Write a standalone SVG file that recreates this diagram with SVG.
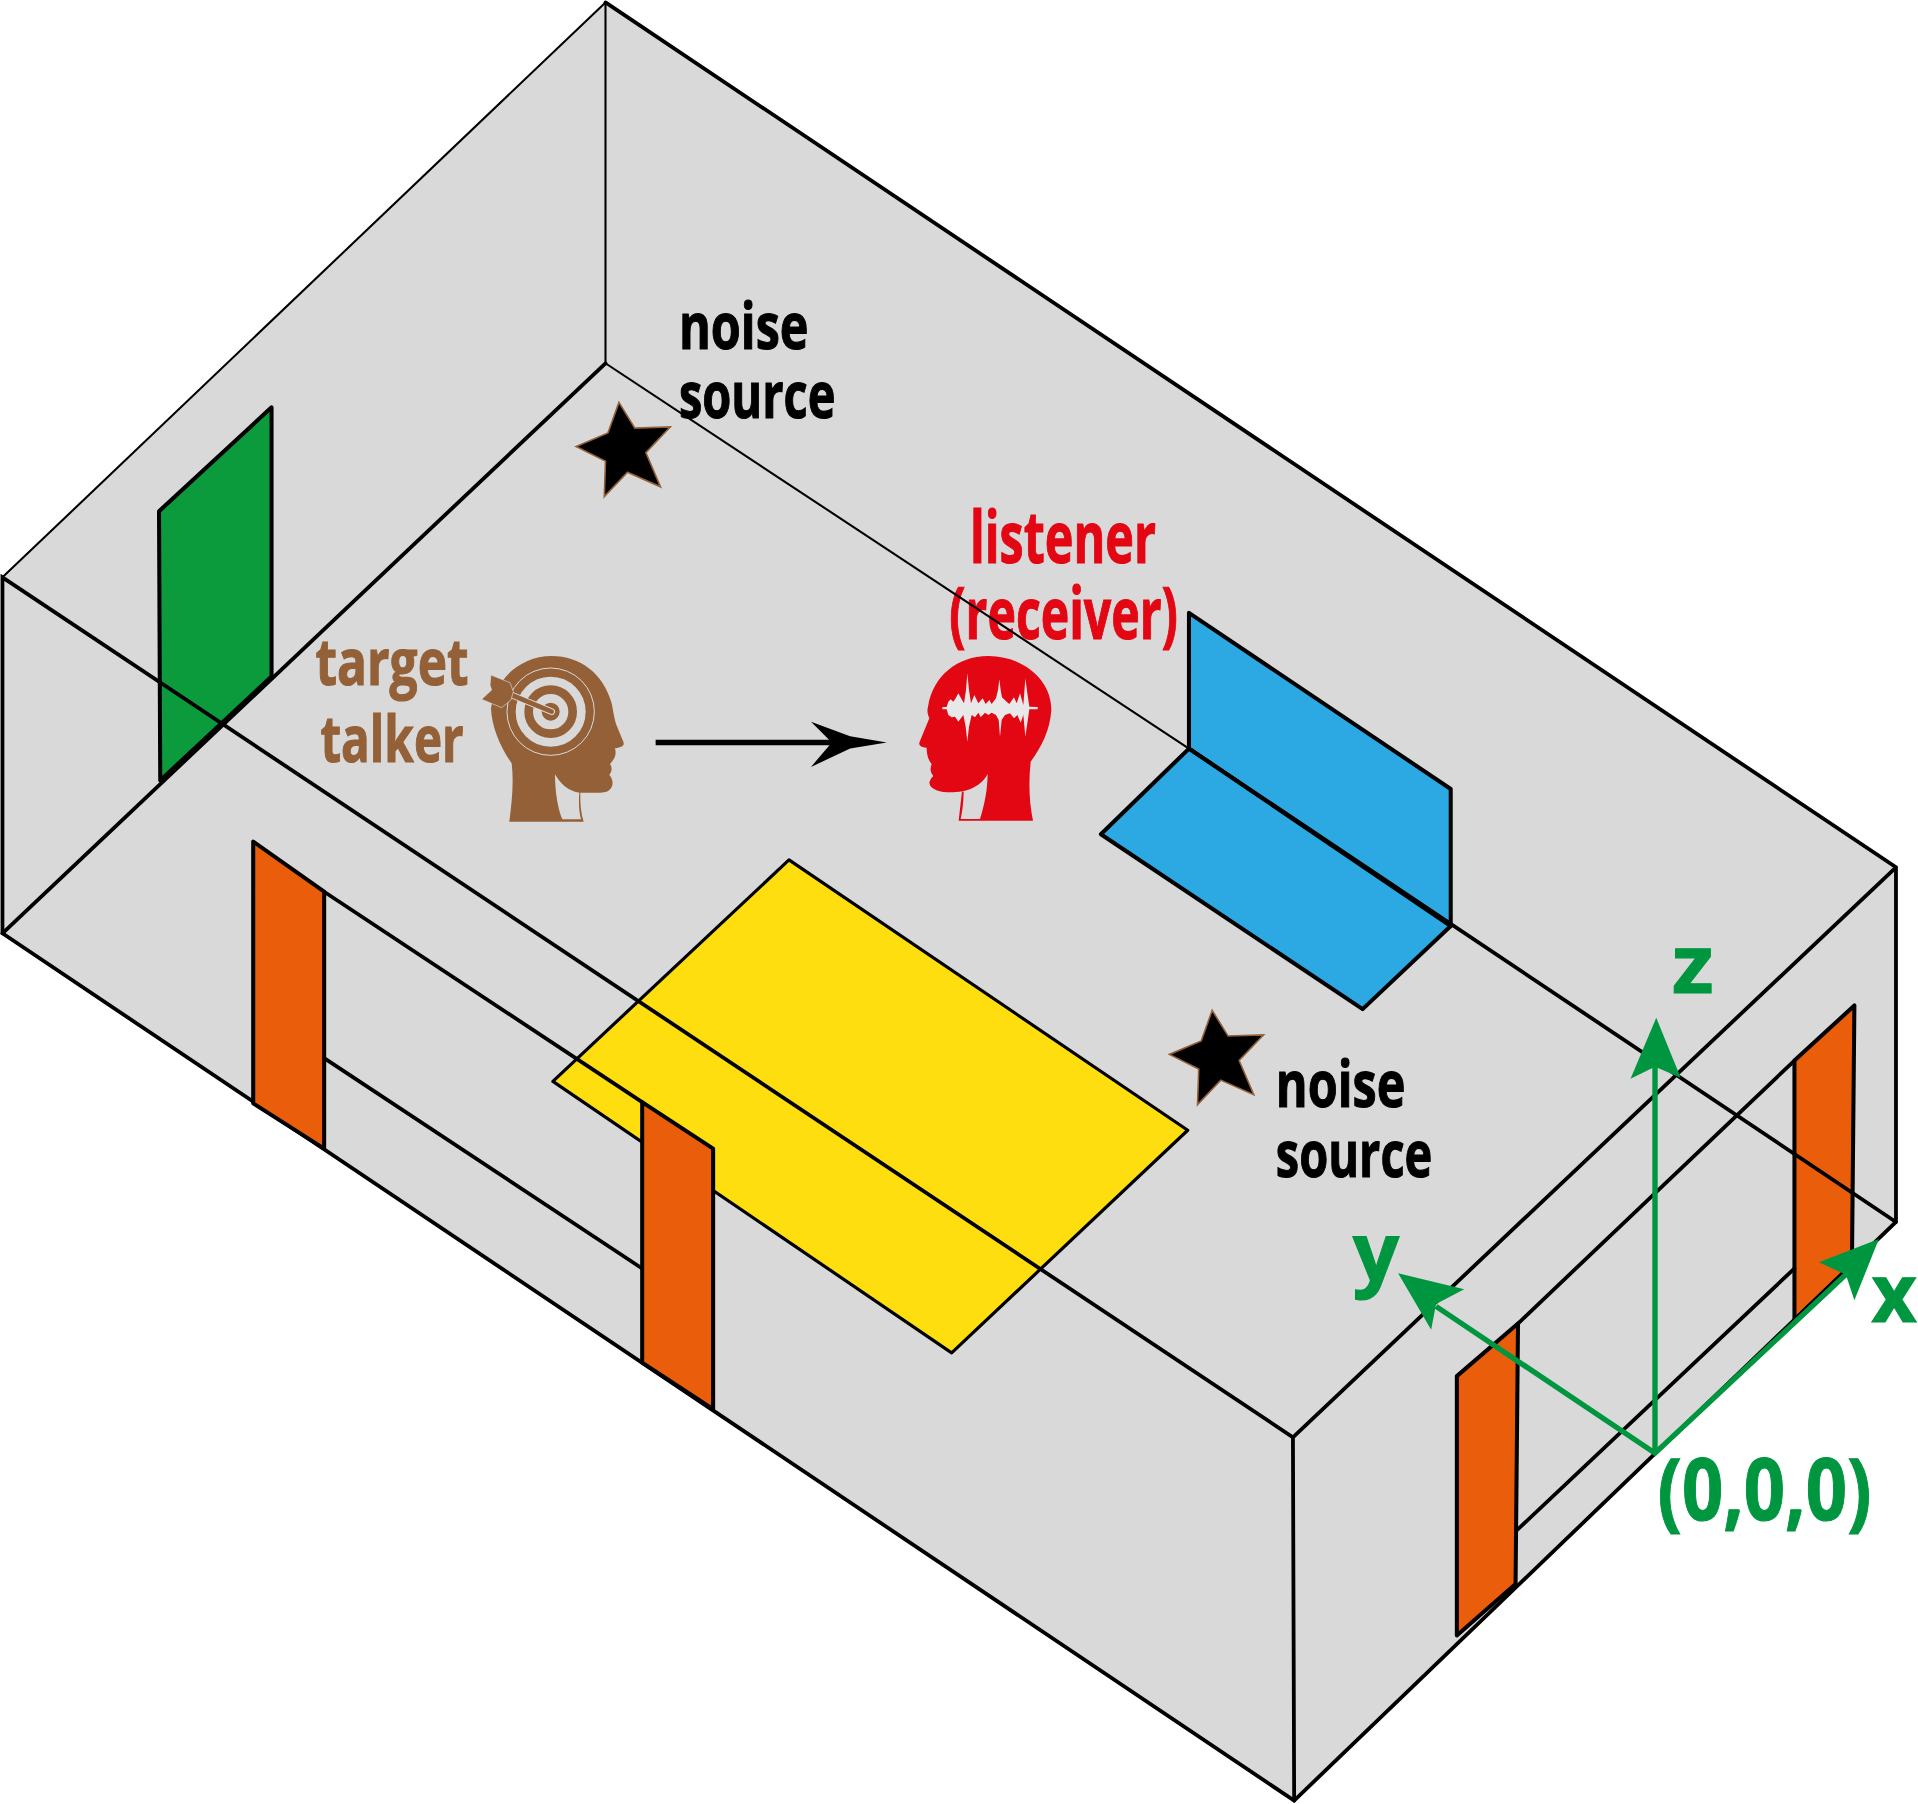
<svg xmlns="http://www.w3.org/2000/svg" width="1918" height="1804" viewBox="0 0 1918 1804">
<style>
.t{font-family:"Open Sans","Liberation Sans",sans-serif;font-weight:700;stroke-width:.9}
.p{stroke:#000;stroke-width:3.3;stroke-linejoin:round}
.y{stroke-width:2.6}
.e{stroke:#000;stroke-width:3.1;fill:none;stroke-linecap:round}
.th{stroke:#000;stroke-width:1.7;fill:none;stroke-linecap:round}
.o{fill:#e95d0b}
.ax{stroke:#009640;stroke-width:4.4;fill:none}
.ah{fill:#009640}
.gt{fill:#009640;stroke:#009640}
</style>
<defs>
<path id="star" d="M506 329L519 350L548 349L528 370L540 398L513 386L494 406L495 377L471 365L497 354Z" fill="#000" stroke="#936037" stroke-width="1.3"/>
</defs>
<rect width="1918" height="1804" fill="#fff"/>
<g transform="scale(1.22321)">
<polygon id="room" points="495,2 1550,709 1550,999 1058,1472 2,763 2,472" fill="#d9d9d9"/>
<g id="label-noise-1" stroke="#000"><text class="t" x="555" y="285" font-size="52" textLength="106" lengthAdjust="spacingAndGlyphs">noise</text><text class="t" x="555" y="342" font-size="52" textLength="128" lengthAdjust="spacingAndGlyphs">source</text></g>
<g id="label-listener" fill="#e30613" stroke="#e30613"><text class="t" x="793" y="460" font-size="58" textLength="152" lengthAdjust="spacingAndGlyphs">listener</text><text class="t" x="776" y="522" font-size="58" textLength="187" lengthAdjust="spacingAndGlyphs">(receiver)</text></g>
<g id="label-target" fill="#936037" stroke="#936037"><text class="t" x="258" y="560" font-size="52" textLength="125" lengthAdjust="spacingAndGlyphs">target</text><text class="t" x="262" y="623" font-size="52" textLength="117" lengthAdjust="spacingAndGlyphs">talker</text></g>
<g id="label-noise-2" stroke="#000"><text class="t" x="1043" y="905" font-size="52" textLength="106" lengthAdjust="spacingAndGlyphs">noise</text><text class="t" x="1043" y="962" font-size="52" textLength="128" lengthAdjust="spacingAndGlyphs">source</text></g>
<use id="star-1" href="#star"/>
<use id="star-2" href="#star" transform="translate(485,497)"/>
<polygon id="door-green" class="p" fill="#0b9a3c" points="130,418 222,333 222,553 131,638"/>
<g id="shelf-blue"><polygon class="p" fill="#2ca9e3" points="972,501 1186,645 1186,757 972,612"/><polygon class="p" fill="#2ca9e3" points="972,612 1186,757 1114,825 900,682"/></g>
<polygon id="table-yellow" class="p y" fill="#ffde0f" points="452,884 645,703 971,924 778,1106"/>
<polygon id="door-4" class="p o" points="1467,867 1516,822 1514,1034 1467,1079"/>
<g id="connectors">
<path class="e" d="M495 2L1550 709V999L1058 1472L2 763V472L1057 1175L1550 709"/>
<path class="th" d="M495 2L2 472M495 2V297L972 612"/>
<path class="e" d="M2 763L495 297M972 612L1550 999M1057 1175L1058 1472"/>
<path class="e" d="M265 729L525 901M265 865L525 1037M1241 1082L1467 867M1239 1252L1467 1037"/>
</g>
<polygon id="door-1" class="p o" points="207,688 265,729 265,939 207,902"/>
<polygon id="door-2" class="p o" points="525,901 583,939 583,1152 525,1114"/>
<polygon id="door-3" class="p o" points="1191,1125 1241,1082 1239,1295 1191,1337"/>
<g id="axes">
<path class="ax" d="M1174 1068L1353 1188L1509 1042M1353 1188V872"/>
<path class="ah" d="M1354 832L1374 881L1353 872L1333 882Z"/>
<path class="ah" d="M1143 1041L1197 1054L1174 1066L1170 1087Z"/>
<path class="ah" d="M1536 1013L1516 1063L1509 1042L1487 1032Z"/>
<g class="gt"><text class="t" x="1367" y="812" font-size="66" textLength="34" lengthAdjust="spacingAndGlyphs">z</text><text class="t" x="1106" y="1047" font-size="66" textLength="38" lengthAdjust="spacingAndGlyphs">y</text><text class="t" x="1530" y="1081" font-size="66" textLength="37" lengthAdjust="spacingAndGlyphs">x</text><text class="t" x="1355" y="1243" font-size="70" textLength="175" lengthAdjust="spacingAndGlyphs">(0,0,0)</text></g>
</g>
<g id="flow-arrow"><path d="M536 607H682" stroke="#000" stroke-width="4.6" fill="none"/><path d="M725 607L695 612L663 627L680 607L663 590L695 602Z"/></g>
</g>
<g id="target-talker" transform="translate(480,640) scale(.33333)">
<path fill="#936037" d="M215 48C300 48 370 100 395 190C400 215 402 232 408 252L430 305C434 316 428 322 405 325C410 345 405 355 390 372C398 385 395 395 388 405C402 420 402 445 380 455C360 460 330 458 300 458C265 455 240 430 225 403C225 460 235 510 247 538L303 538C298 520 295 490 298 458L301 458C300 490 303 520 311 545L88 545C95 490 102 430 95 370C60 320 35 260 33 205C45 120 120 48 215 48Z"/>
<circle cx="212" cy="215" r="131" fill="none" stroke="#d9d9d9" stroke-width="3"/>
<circle cx="212" cy="215" r="92" fill="none" stroke="#d9d9d9" stroke-width="26"/>
<circle cx="212" cy="215" r="40" fill="none" stroke="#d9d9d9" stroke-width="26"/>
<path d="M215 215L95 165" stroke="#d9d9d9" stroke-width="20" fill="none" stroke-linecap="round"/>
<path d="M215 215L95 165" stroke="#936037" stroke-width="14" fill="none" stroke-linecap="round"/>
<path fill="#936037" stroke="#d9d9d9" stroke-width="2" d="M33 105L90 128L100 155L93 180L65 203L5 178L35 150L30 135Z"/>
</g>
<g id="listener" transform="translate(910,640) scale(.33333)">
<path fill="#e30613" d="M235 48C340 48 425 120 424 210C420 270 395 320 362 365C355 430 358 490 369 542L146 542L156 454L161 456C160 490 157 515 152 537L210 537C225 490 232 450 233 402C215 435 180 455 130 457C95 458 60 450 58 428C60 420 65 412 70 408C60 395 60 385 65 372C55 360 50 345 50 323C30 322 25 315 29 305L58 235C50 215 52 210 55 195C70 110 140 48 235 48Z"/>
<polygon fill="#e8e8e8" points="97,201 110,201 115,185 122,178 130,185 137,175 145,160 155,178 162,190 168,150 172,100 177,150 183,190 193,165 205,190 218,175 227,192 238,180 245,192 258,175 264,150 268,118 272,150 276,172 290,185 298,192 312,172 320,190 330,160 340,195 346,115 352,160 358,200 383,201 383,208 358,208 352,250 346,290 340,225 332,248 322,225 312,235 300,220 285,225 275,240 270,290 266,240 258,225 245,218 235,225 225,218 212,232 205,218 195,232 185,225 177,260 172,305 167,260 160,225 145,245 135,230 125,232 115,225 110,208 97,208"/>
</g>
</svg>
